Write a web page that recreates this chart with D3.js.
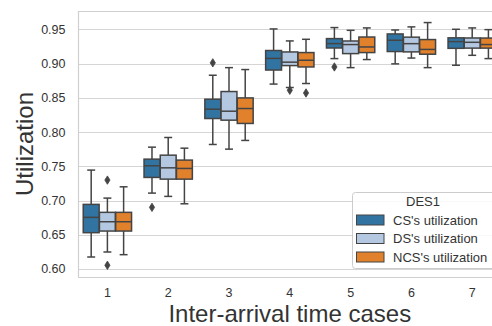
<!DOCTYPE html>
<html>
<head>
<meta charset="utf-8">
<script src="https://cdn.jsdelivr.net/npm/d3@7"></script>
<style>
  html, body { margin: 0; padding: 0; background: #fff; }
  svg { display: block; font-family: "Liberation Sans", Arial, sans-serif; }
</style>
</head>
<body>
<svg id="chart" width="492" height="326"></svg>
<script>
// ---------- data ----------
const categories = ["1", "2", "3", "4", "5", "6", "7"];
const seriesNames = ["CS's utilization", "DS's utilization", "NCS's utilization"];
const yTicks = [0.60, 0.65, 0.70, 0.75, 0.80, 0.85, 0.90, 0.95];

// [whisker low, Q1, median, Q3, whisker high] per category
const csStats = [
  [0.6175, 0.6530, 0.6754, 0.6943, 0.7444],
  [0.7108, 0.7337, 0.7507, 0.7604, 0.7779],
  [0.7818, 0.8197, 0.8333, 0.8479, 0.8829],
  [0.8700, 0.8905, 0.9075, 0.9190, 0.9505],
  [0.9072, 0.9227, 0.9291, 0.9364, 0.9525],
  [0.8995, 0.9175, 0.9340, 0.9432, 0.9490],
  [0.8975, 0.9222, 0.9320, 0.9375, 0.9500]
];
const dsStats = [
  [0.6248, 0.6554, 0.6690, 0.6827, 0.7035],
  [0.7060, 0.7312, 0.7477, 0.7662, 0.7920],
  [0.7750, 0.8173, 0.8304, 0.8591, 0.8940],
  [0.8650, 0.8970, 0.9020, 0.9169, 0.9330],
  [0.8940, 0.9145, 0.9277, 0.9329, 0.9485],
  [0.9080, 0.9170, 0.9290, 0.9385, 0.9535],
  [0.9120, 0.9225, 0.9310, 0.9373, 0.9520]
];
const ncsStats = [
  [0.6209, 0.6554, 0.6690, 0.6827, 0.7200],
  [0.6952, 0.7312, 0.7468, 0.7590, 0.7764],
  [0.7877, 0.8125, 0.8343, 0.8498, 0.8912],
  [0.8708, 0.8950, 0.9048, 0.9160, 0.9354],
  [0.9058, 0.9160, 0.9242, 0.9387, 0.9520],
  [0.8940, 0.9136, 0.9206, 0.9350, 0.9598],
  [0.9072, 0.9225, 0.9277, 0.9372, 0.9495]
];
// outliers per category
const csOutliers  = [[], [0.690], [0.901], [], [0.895], [], []];
const dsOutliers  = [[0.7298, 0.6054], [], [], [0.861], [], [], []];
const ncsOutliers = [[], [], [], [0.857], [], [], []];

const colors = ["#3274a1", "#b5c8e1", "#e1812c"];
const yLimits = [0.5883, 0.9767];

// ---------- layout ----------
const svg = d3.select("#chart");
const plot = { left: 78, top: 11, bottom: 277, xStart: 77, xEnd: 502.6 };
const lineColor = "#444444";
const gridColor = "#d5d5d5";
const textColor = "#333333";

const x = d3.scaleBand().domain(categories).range([plot.xStart, plot.xEnd]).paddingInner(0).paddingOuter(0);
const groupW = x.bandwidth() * 0.8;
const xs = d3.scaleBand().domain(seriesNames).range([0, groupW]);
const y = d3.scaleLinear().domain(yLimits).range([plot.bottom, plot.top]);

// grid
svg.append("g").selectAll("line").data(yTicks).join("line")
  .attr("x1", plot.left).attr("x2", 492)
  .attr("y1", d => Math.round(y(d)) + 0.5).attr("y2", d => Math.round(y(d)) + 0.5)
  .attr("stroke", gridColor).attr("stroke-width", 1.1);

// spines
svg.append("line").attr("x1", plot.left + 0.5).attr("x2", plot.left + 0.5)
  .attr("y1", plot.top).attr("y2", plot.bottom).attr("stroke", "#cfcfcf").attr("stroke-width", 1.2);
svg.append("line").attr("x1", plot.left).attr("x2", 492)
  .attr("y1", plot.top + 0.5).attr("y2", plot.top + 0.5).attr("stroke", "#cfcfcf").attr("stroke-width", 1.2);
svg.append("line").attr("x1", plot.left).attr("x2", 492)
  .attr("y1", plot.bottom + 0.5).attr("y2", plot.bottom + 0.5).attr("stroke", "#cfcfcf").attr("stroke-width", 1.2);

// axes (labels only, no tick marks)
const yAxis = d3.axisLeft(y).tickValues(yTicks).tickFormat(d3.format(".2f")).tickSize(0).tickPadding(12.5);
const gy = svg.append("g").attr("transform", `translate(${plot.left},0)`).call(yAxis);
gy.select(".domain").remove();
gy.selectAll("text").attr("font-size", 12.5).attr("fill", textColor).attr("font-family", "Liberation Sans, Arial, sans-serif");

const xAxis = d3.axisBottom(x).tickSize(0).tickPadding(11);
const gx = svg.append("g").attr("transform", `translate(0,${plot.bottom})`).call(xAxis);
gx.select(".domain").remove();
gx.selectAll("text").attr("font-size", 12.5).attr("fill", textColor).attr("font-family", "Liberation Sans, Arial, sans-serif");

// axis titles
svg.append("text").attr("x", (plot.xStart + plot.xEnd) / 2).attr("y", 322)
  .attr("text-anchor", "middle").attr("font-size", 24).attr("fill", textColor)
  .text("Inter-arrival time cases");
svg.append("text").attr("transform", `translate(33,${(plot.top + plot.bottom) / 2}) rotate(-90)`)
  .attr("text-anchor", "middle").attr("font-size", 24).attr("fill", textColor)
  .text("Utilization");

// boxes
const allStats = [csStats, dsStats, ncsStats];
const allOut = [csOutliers, dsOutliers, ncsOutliers];
const boxes = [];
seriesNames.forEach((s, si) => {
  categories.forEach((c, ci) => {
    boxes.push({ s, si, c, st: allStats[si][ci], out: allOut[si][ci] });
  });
});

const gBox = svg.append("g");
const bw = xs.bandwidth() * 0.98;
boxes.forEach(b => {
  const x0 = x(b.c) + (x.bandwidth() - groupW) / 2 + xs(b.s) + (xs.bandwidth() - bw) / 2;
  const cx = x0 + bw / 2;
  const [lo, q1, med, q3, hi] = b.st;
  const g = gBox.append("g");
  // whiskers
  g.append("line").attr("x1", cx).attr("x2", cx).attr("y1", y(q3)).attr("y2", y(hi))
    .attr("stroke", lineColor).attr("stroke-width", 1.5);
  g.append("line").attr("x1", cx).attr("x2", cx).attr("y1", y(q1)).attr("y2", y(lo))
    .attr("stroke", lineColor).attr("stroke-width", 1.5);
  // caps
  [lo, hi].forEach(v => {
    g.append("line").attr("x1", cx - bw / 4).attr("x2", cx + bw / 4).attr("y1", y(v)).attr("y2", y(v))
      .attr("stroke", lineColor).attr("stroke-width", 1.5);
  });
  // box
  g.append("rect").attr("x", x0).attr("y", y(q3)).attr("width", bw).attr("height", y(q1) - y(q3))
    .attr("fill", colors[b.si]).attr("stroke", lineColor).attr("stroke-width", 1.5);
  // median
  g.append("line").attr("x1", x0).attr("x2", x0 + bw).attr("y1", y(med)).attr("y2", y(med))
    .attr("stroke", lineColor).attr("stroke-width", 1.5);
  // outliers (diamonds)
  b.out.forEach(v => {
    const py = y(v);
    g.append("path")
      .attr("d", `M${cx},${py - 4.2} L${cx + 2.6},${py} L${cx},${py + 4.2} L${cx - 2.6},${py} Z`)
      .attr("fill", lineColor).attr("stroke", lineColor).attr("stroke-width", 0.8);
  });
});

// legend
const lg = svg.append("g").attr("transform", "translate(352,192)");
lg.append("rect").attr("x", 0.5).attr("y", 0.5).attr("width", 145).attr("height", 76).attr("rx", 3)
  .attr("fill", "rgba(255,255,255,0.85)").attr("stroke", "#cccccc").attr("stroke-width", 1);
lg.append("text").attr("x", 71).attr("y", 13.7).attr("text-anchor", "middle")
  .attr("font-size", 13).attr("fill", textColor).text("DES1");
seriesNames.forEach((s, i) => {
  const yy = 28 + i * 18.5;
  lg.append("rect").attr("x", 4.5).attr("y", yy - 5).attr("width", 27.5).attr("height", 10)
    .attr("fill", colors[i]).attr("stroke", lineColor).attr("stroke-width", 1);
  lg.append("text").attr("x", 41).attr("y", yy + 4.6).attr("font-size", 13).attr("fill", textColor).text(s);
});
</script>
</body>
</html>
